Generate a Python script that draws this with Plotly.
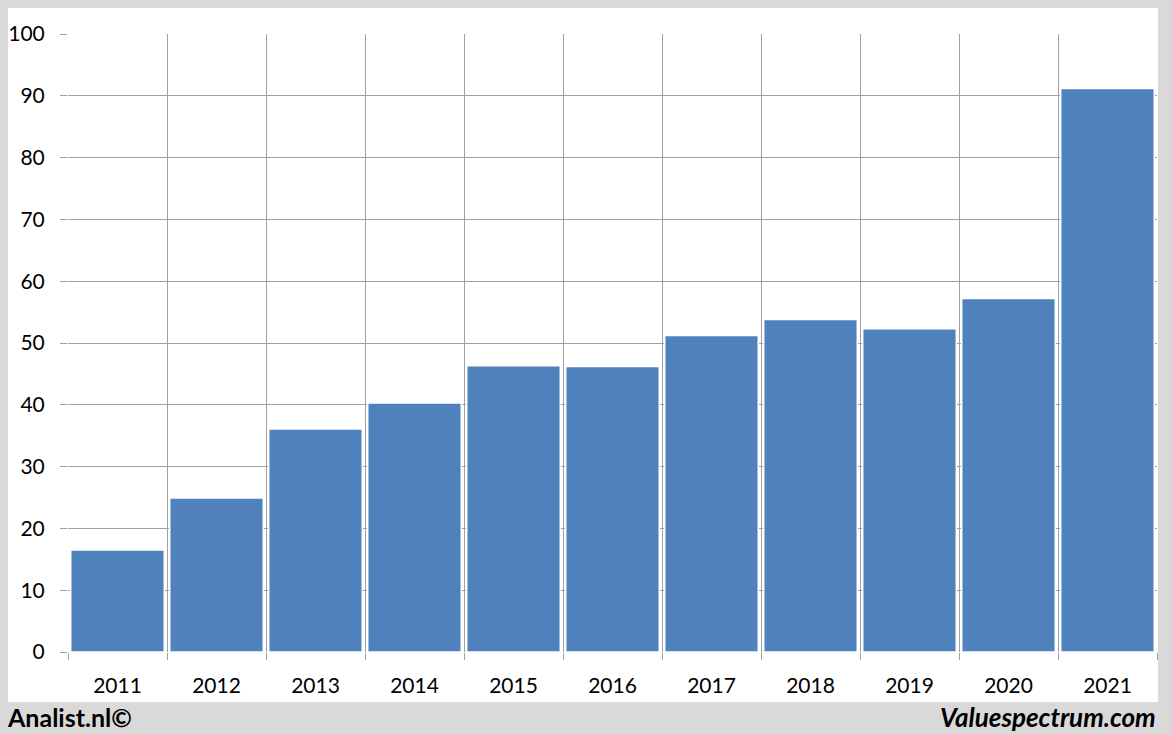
import plotly.graph_objects as go

years = ["2011", "2012", "2013", "2014", "2015", "2016", "2017", "2018", "2019", "2020", "2021"]
values = [16.5, 24.9, 36.1, 40.3, 46.3, 46.2, 51.2, 53.8, 52.3, 57.2, 91.2]
y_ticks = [0, 10, 20, 30, 40, 50, 60, 70, 80, 90, 100]

W, H = 1172, 734
L, R, T, B = 68, 15, 34, 82
pw, ph = W - L - R, H - T - B

def px_x(p):
    return (p - L) / pw

def px_y(p):
    return (H - B - p) / ph

fig = go.Figure()
fig.add_trace(go.Bar(
    x=years, y=values,
    marker=dict(color="#4f81bd", line=dict(color="white", width=1.5)),
))

fig.update_layout(
    width=W, height=H,
    margin=dict(l=L, r=R, t=T, b=B, autoexpand=False),
    paper_bgcolor="#d9d9d9",
    plot_bgcolor="white",
    bargap=0.055,
    showlegend=False,
    font=dict(family="Lato, Calibri, sans-serif", size=21, color="#000000"),
    shapes=[dict(type="rect", xref="paper", yref="paper",
                 x0=px_x(8), x1=px_x(1158), y0=px_y(702), y1=px_y(8),
                 fillcolor="white", line=dict(width=0), layer="below")],
    annotations=[
        dict(text="<b>Analist.nl©</b>", xref="paper", yref="paper",
             x=px_x(5), y=px_y(717), xanchor="left", yanchor="middle",
             showarrow=False, font=dict(size=25, family="Lato, sans-serif", color="#000")),
        dict(text="<b><i>Valuespectrum.com</i></b>", xref="paper", yref="paper",
             x=px_x(1158), y=px_y(717), xanchor="right", yanchor="middle",
             showarrow=False, font=dict(size=26, family="Lato, sans-serif", color="#000")),
    ],
)

fig.update_xaxes(
    type="category", tickson="boundaries",
    showgrid=True, gridcolor="#a0a0a0", gridwidth=1,
    ticks="outside", ticklen=7, tickcolor="#a0a0a0",
    showline=False, zeroline=False,
    ticklabelstandoff=19,
)
fig.update_yaxes(
    range=[0, 100], tickvals=y_ticks,
    showgrid=True, gridcolor="#a0a0a0", gridwidth=1,
    ticks="outside", ticklen=7, tickcolor="#a0a0a0",
    showline=False, zeroline=False,
    ticklabelstandoff=11,
)

fig.write_html("out.html", config={"displayModeBar": False},
               post_script="document.body.style.margin='0';document.body.style.overflow='hidden';")
